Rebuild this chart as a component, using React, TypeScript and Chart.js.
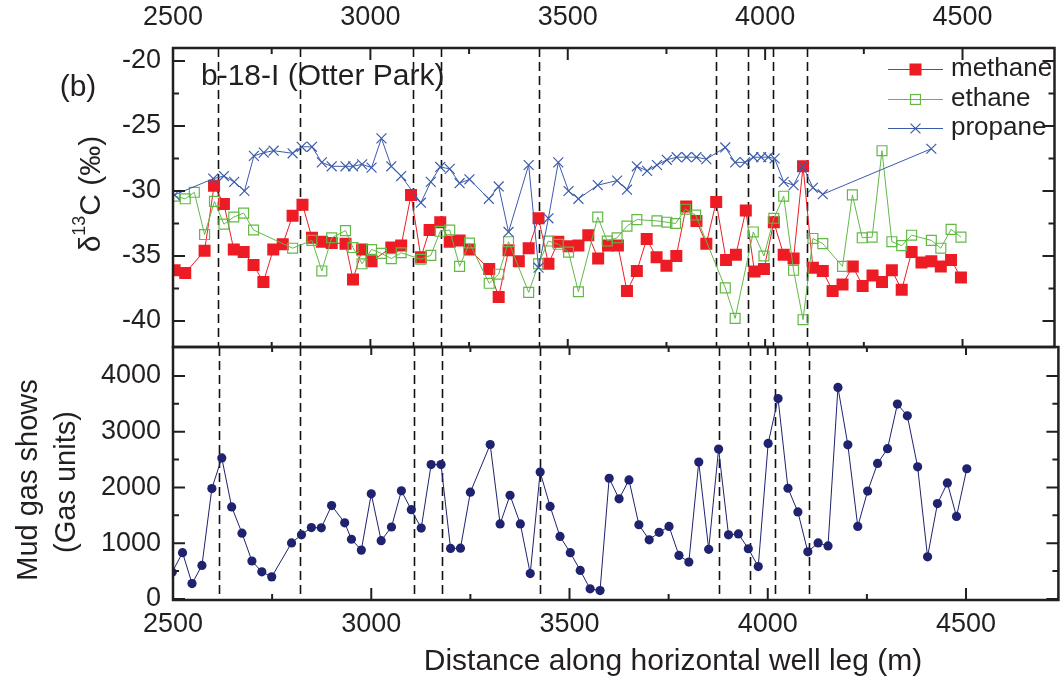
import React, { useEffect, useRef } from 'react';
import { Chart, registerables } from 'chart.js';

Chart.register(...registerables);

const W = 1063;
const H = 678;
const FONT = '"Liberation Sans", Arial, Helvetica, sans-serif';
const INK = '#231f20';

// ---------- axes ----------
const X_MIN = 2500;
const X_MAX = 4733;
const xMajorTicks = [2500, 3000, 3500, 4000, 4500];
const xMinorTicks = [2750, 3250, 3750, 4250];

const ISO_MIN = -42;
const ISO_MAX = -19;
const isoMajorTicks = [-40, -35, -30, -25, -20];
const isoMinorTicks = [-37.5, -32.5, -27.5, -22.5];

const GAS_MIN = -20;
const GAS_MAX = 4520;
const gasMajorTicks = [0, 1000, 2000, 3000, 4000];
const gasMinorTicks = [500, 1500, 2500, 3500];

// depths of the vertical dashed marker lines (m)
const showDepths = [2615, 2821, 3107, 3178, 3426, 3876, 3956, 4019, 4105];

// ---------- data ----------
const methaneX = [
  2504, 2531, 2580, 2604, 2629, 2654, 2679, 2704, 2729, 2754,
  2778, 2803, 2828, 2852, 2877, 2902, 2937, 2956, 2979, 3003,
  3053, 3078, 3103, 3128, 3150, 3177, 3201, 3226, 3251, 3301,
  3325, 3350, 3376, 3401, 3426, 3451, 3476, 3502, 3527, 3552,
  3577, 3602, 3627, 3650, 3675, 3700, 3725, 3750, 3775, 3800,
  3826, 3851, 3876, 3901, 3926, 3951, 3973, 3997, 4022, 4047,
  4072, 4096, 4121, 4146, 4171, 4196, 4222, 4247, 4272, 4296,
  4321, 4346, 4371, 4396, 4421, 4445, 4471, 4496,
];
const methaneY = [
  -36.1, -36.3, -34.6, -29.6, -31.0, -34.5, -34.7, -35.7, -37.0, -34.5,
  -34.1, -31.9, -31.05, -33.6, -33.9, -34.0, -34.05, -36.8, -34.5, -35.4,
  -34.35, -34.2, -30.3, -35.1, -33.0, -32.4, -33.9, -33.8, -34.5, -36.0,
  -38.15, -34.55, -35.4, -34.4, -32.1, -35.6, -33.9, -34.25, -34.2, -33.4,
  -35.2, -34.2, -34.2, -37.7, -36.15, -33.7, -35.1, -35.75, -35.0, -31.2,
  -32.3, -34.05, -30.85, -35.3, -34.9, -31.5, -36.2, -36.0, -32.4, -34.9,
  -35.2, -28.1, -35.9, -36.15, -37.7, -37.2, -35.8, -37.3, -36.5, -37.0,
  -36.1, -37.6, -34.7, -35.5, -35.4, -35.8, -35.3, -36.65,
];

const ethaneX = [
  2504, 2531, 2554, 2580, 2605, 2629, 2654, 2679, 2704, 2803,
  2852, 2877, 2902, 2937, 2956, 2979, 3003, 3028, 3053, 3078,
  3128, 3153, 3177, 3201, 3226, 3251, 3301, 3325, 3350, 3401,
  3426, 3451, 3476, 3502, 3527, 3576, 3600, 3625, 3650, 3675,
  3726, 3751, 3773, 3798, 3824, 3899, 3924, 3970, 3997, 4022,
  4047, 4072, 4096, 4121, 4146, 4196, 4221, 4246, 4271, 4296,
  4321, 4346, 4371, 4421, 4445, 4471, 4496,
];
const ethaneY = [
  -30.4, -30.6, -30.1, -33.35, -30.8, -32.55, -32.0, -31.7, -33.0, -34.4,
  -33.8, -36.15, -33.6, -33.05, -34.35, -35.6, -34.5, -34.8, -35.2, -34.75,
  -35.25, -34.95, -33.1, -33.0, -35.8, -34.0, -37.1, -36.4, -33.9, -37.8,
  -35.6, -33.85, -34.1, -34.7, -37.75, -32.0, -33.85, -33.6, -32.7, -32.2,
  -32.3, -32.4, -32.5, -31.4, -31.85, -37.45, -39.8, -33.15, -35.0, -32.1,
  -30.4, -36.1, -39.9, -33.65, -34.05, -35.8, -30.3, -33.6, -33.55, -26.9,
  -33.9, -34.2, -33.4, -33.8, -34.4, -32.95, -33.55,
];

const propaneX = [
  2504, 2602, 2629, 2655, 2681, 2705, 2730, 2755, 2803, 2826,
  2852, 2877, 2902, 2937, 2956, 2979, 3003, 3028, 3053, 3078,
  3128, 3153, 3177, 3201, 3226, 3251, 3300, 3325, 3350, 3401,
  3426, 3451, 3476, 3502, 3527, 3576, 3625, 3650, 3675, 3701,
  3726, 3751, 3776, 3801, 3826, 3851, 3899, 3924, 3949, 3970,
  3990, 4008, 4024, 4047, 4072, 4096, 4121, 4146, 4421,
];
const propaneY = [
  -30.3, -29.05, -28.85, -29.3, -30.0, -27.3, -27.05, -26.9, -27.1, -26.6,
  -26.6, -27.8, -28.1, -28.1, -28.1, -27.95, -28.2, -25.95, -28.1, -28.85,
  -30.9, -29.3, -28.15, -28.3, -29.4, -29.1, -30.6, -29.65, -33.15, -28.0,
  -35.9, -32.1, -27.8, -30.0, -30.6, -29.55, -29.2, -29.9, -28.1, -28.45,
  -28.0, -27.6, -27.4, -27.4, -27.4, -27.55, -26.65, -27.8, -27.8, -27.4,
  -27.4, -27.4, -27.5, -29.3, -29.55, -28.1, -29.75, -30.25, -26.75,
];

const mudX = [
  2498, 2524, 2548, 2573, 2598, 2623, 2648, 2674, 2699, 2724,
  2749, 2799, 2824, 2849, 2874, 2900, 2933, 2950, 2975, 3000,
  3025, 3051, 3076, 3101, 3126, 3151, 3176, 3200, 3225, 3250,
  3300, 3325, 3350, 3376, 3401, 3426, 3451, 3476, 3502, 3527,
  3552, 3577, 3600, 3625, 3650, 3675, 3701, 3726, 3751, 3776,
  3801, 3826, 3851, 3876, 3901, 3926, 3951, 3976, 4001, 4026,
  4051, 4076, 4101, 4127, 4152, 4177, 4202, 4227, 4252, 4277,
  4302, 4327, 4352, 4378, 4403, 4428, 4453, 4476, 4502,
];
const mudY = [
  480, 830, 275, 600, 1980, 2530, 1650, 1180, 680, 485,
  395, 1005, 1150, 1280, 1275, 1675, 1365, 1070, 875, 1885,
  1045, 1290, 1940, 1600, 1270, 2410, 2410, 905, 910, 1915,
  2770, 1345, 1860, 1345, 455, 2275, 1660, 1120, 830, 510,
  180, 150, 2165, 1795, 2135, 1330, 1060, 1195, 1300, 780,
  660, 2455, 890, 2690, 1150, 1165, 900, 580, 2790, 3595,
  1985, 1560, 845, 1005, 950, 3795, 2765, 1300, 1935, 2430,
  2695, 3495, 3285, 2370, 755, 1710, 2080, 1480, 2335,
];

const RED = '#ed1c24';
const GREEN = '#62b946';
const BLUE = '#3b5bab';
const NAVY = '#1f226e';

const pts = (xs: number[], ys: number[]) =>
  xs.slice(0, Math.min(xs.length, ys.length)).map((x, i) => ({ x, y: ys[i] }));

const plain = (v: any) => String(v);

// ---------- drawing helpers ----------
function drawDashed(chart: any) {
  const { ctx, chartArea: a } = chart;
  const xs = chart.scales.x;
  ctx.save();
  ctx.strokeStyle = '#111';
  ctx.lineWidth = 1.6;
  ctx.setLineDash([9, 5]);
  ctx.beginPath();
  showDepths.forEach((d) => {
    const p = Math.round(xs.getPixelForValue(d)) + 0.5;
    ctx.moveTo(p, a.top);
    ctx.lineTo(p, a.bottom);
  });
  ctx.stroke();
  ctx.restore();
}

function drawFrame(
  chart: any,
  yMajor: number[],
  yMinor: number[],
  topLen: [number, number],
  botLen: [number, number]
) {
  const { ctx, chartArea: a } = chart;
  const xs = chart.scales.x;
  const ys = chart.scales.y;
  ctx.save();
  ctx.strokeStyle = INK;
  ctx.lineWidth = 2;
  ctx.setLineDash([]);
  ctx.beginPath();
  const vt = (vals: number[], t: number, b: number) =>
    vals.forEach((v) => {
      const p = xs.getPixelForValue(v);
      ctx.moveTo(p, a.top);
      ctx.lineTo(p, a.top + t);
      ctx.moveTo(p, a.bottom);
      ctx.lineTo(p, a.bottom - b);
    });
  vt(xMajorTicks, topLen[0], botLen[0]);
  vt(xMinorTicks, topLen[1], botLen[1]);
  const ht = (vals: number[], len: number) =>
    vals.forEach((v) => {
      const p = ys.getPixelForValue(v);
      ctx.moveTo(a.left, p);
      ctx.lineTo(a.left + len, p);
      ctx.moveTo(a.right, p);
      ctx.lineTo(a.right - len, p);
    });
  ht(yMajor, 12);
  ht(yMinor, 6);
  ctx.stroke();
  ctx.lineWidth = 2.5;
  ctx.strokeRect(a.left, a.top, a.right - a.left, a.bottom - a.top);
  ctx.restore();
}

function legendMarker(ctx: CanvasRenderingContext2D, kind: string, x: number, y: number) {
  if (kind === 'methane') {
    const s = 8.5 * Math.SQRT1_2;
    ctx.fillStyle = RED;
    ctx.fillRect(x - s, y - s, 2 * s, 2 * s);
  } else if (kind === 'ethane') {
    const s = 7 * Math.SQRT1_2;
    ctx.strokeStyle = GREEN;
    ctx.lineWidth = 1.2;
    ctx.strokeRect(x - s, y - s, 2 * s, 2 * s);
  } else {
    const s = 7 * Math.SQRT1_2;
    ctx.strokeStyle = BLUE;
    ctx.lineWidth = 1.2;
    ctx.beginPath();
    ctx.moveTo(x - s, y - s);
    ctx.lineTo(x + s, y + s);
    ctx.moveTo(x + s, y - s);
    ctx.lineTo(x - s, y + s);
    ctx.stroke();
  }
}

const legendItems = [
  { label: 'methane', color: RED, y: 69 },
  { label: 'ethane', color: GREEN, y: 99 },
  { label: 'propane', color: BLUE, y: 128 },
];

const topDecor = {
  id: 'topDecor',
  beforeDatasetsDraw(chart: any) {
    drawDashed(chart);
  },
  afterDraw(chart: any) {
    const ctx: CanvasRenderingContext2D = chart.ctx;
    drawFrame(chart, isoMajorTicks, isoMinorTicks, [12, 6], [8, 5]);
    ctx.save();
    // legend
    legendItems.forEach((it) => {
      ctx.strokeStyle = it.color;
      ctx.lineWidth = 1;
      ctx.beginPath();
      ctx.moveTo(888, it.y + 0.5);
      ctx.lineTo(943, it.y + 0.5);
      ctx.stroke();
      legendMarker(ctx, it.label, 915.5, it.y + 0.5);
      ctx.fillStyle = INK;
      ctx.font = `26px ${FONT}`;
      ctx.textAlign = 'left';
      ctx.textBaseline = 'middle';
      ctx.fillText(it.label, 951, it.y);
    });
    // annotations
    ctx.fillStyle = INK;
    ctx.font = `30px ${FONT}`;
    ctx.textAlign = 'left';
    ctx.textBaseline = 'alphabetic';
    ctx.fillText('b-18-I (Otter Park)', 201, 85);
    ctx.textAlign = 'center';
    ctx.fillText('(b)', 78, 96);
    // y title with superscript
    ctx.translate(100, 194);
    ctx.rotate(-Math.PI / 2);
    ctx.textAlign = 'left';
    const big = `30px ${FONT}`;
    const small = `18px ${FONT}`;
    ctx.font = big;
    const w1 = ctx.measureText('δ').width;
    const w3 = ctx.measureText('C (‰)').width;
    ctx.font = small;
    const w2 = ctx.measureText('13').width;
    let x0 = -(w1 + w2 + w3) / 2;
    ctx.font = big;
    ctx.fillText('δ', x0, 0);
    x0 += w1;
    ctx.font = small;
    ctx.fillText('13', x0, -15);
    x0 += w2;
    ctx.font = big;
    ctx.fillText('C (‰)', x0, 0);
    ctx.restore();
  },
};

const bottomDecor = {
  id: 'bottomDecor',
  beforeDatasetsDraw(chart: any) {
    drawDashed(chart);
  },
  afterDraw(chart: any) {
    const ctx: CanvasRenderingContext2D = chart.ctx;
    drawFrame(chart, gasMajorTicks, gasMinorTicks, [8, 5], [12, 6]);
    ctx.save();
    ctx.fillStyle = INK;
    ctx.font = `30px ${FONT}`;
    ctx.textAlign = 'center';
    ctx.textBaseline = 'alphabetic';
    ctx.fillText('Distance along horizontal well leg (m)', 673, 670);
    ctx.font = `29px ${FONT}`;
    ctx.save();
    ctx.translate(37, 480);
    ctx.rotate(-Math.PI / 2);
    ctx.fillText('Mud gas shows', 0, 0);
    ctx.restore();
    ctx.save();
    ctx.translate(75, 482);
    ctx.rotate(-Math.PI / 2);
    ctx.fillText('(Gas units)', 0, 0);
    ctx.restore();
    ctx.restore();
  },
};

const tickFont = { family: FONT, size: 27 };

export default function App() {
  const topRef = useRef<HTMLCanvasElement>(null);
  const botRef = useRef<HTMLCanvasElement>(null);

  useEffect(() => {
    const common: any = {
      responsive: false,
      animation: false,
      devicePixelRatio: 1,
      events: [],
      plugins: { legend: { display: false }, tooltip: { enabled: false } },
    };

    const top = new Chart(topRef.current as HTMLCanvasElement, {
      type: 'line',
      data: {
        datasets: [
          {
            label: 'propane',
            data: pts(propaneX, propaneY),
            borderColor: BLUE,
            borderWidth: 1,
            pointStyle: 'crossRot',
            pointRadius: 7,
            pointBorderWidth: 1.2,
            pointBorderColor: BLUE,
            order: 0,
          },
          {
            label: 'ethane',
            data: pts(ethaneX, ethaneY),
            borderColor: GREEN,
            borderWidth: 1,
            pointStyle: 'rect',
            pointRadius: 7,
            pointBorderWidth: 1.2,
            pointBorderColor: GREEN,
            pointBackgroundColor: 'rgba(255,255,255,0)',
            order: 1,
          },
          {
            label: 'methane',
            data: pts(methaneX, methaneY),
            borderColor: RED,
            borderWidth: 1,
            pointStyle: 'rect',
            pointRadius: 8.5,
            pointBorderWidth: 0,
            pointBackgroundColor: RED,
            order: 2,
          },
        ] as any,
      },
      options: {
        ...common,
        layout: { padding: { top: 0, right: 1, bottom: H - 347, left: 0 } },
        scales: {
          x: { type: 'linear', min: X_MIN, max: X_MAX, display: false },
          xTop: {
            type: 'linear',
            position: 'top',
            min: X_MIN,
            max: X_MAX,
            grid: { display: false, drawTicks: false },
            border: { display: false },
            ticks: { font: tickFont, color: INK, padding: 14, maxRotation: 0, autoSkip: false, callback: plain },
            afterBuildTicks: (s: any) => {
              s.ticks = xMajorTicks.map((v) => ({ value: v }));
            },
            afterFit: (s: any) => {
              s.height = 48;
            },
          },
          y: {
            type: 'linear',
            position: 'left',
            min: ISO_MIN,
            max: ISO_MAX,
            grid: { display: false, drawTicks: false },
            border: { display: false },
            ticks: { font: tickFont, color: INK, padding: 12, autoSkip: false, callback: plain },
            afterBuildTicks: (s: any) => {
              s.ticks = isoMajorTicks.map((v) => ({ value: v }));
            },
            afterFit: (s: any) => {
              s.width = 173;
            },
          },
        },
      } as any,
      plugins: [topDecor],
    });

    const bottom = new Chart(botRef.current as HTMLCanvasElement, {
      type: 'line',
      data: {
        datasets: [
          {
            label: 'mud gas',
            data: pts(mudX, mudY),
            borderColor: NAVY,
            borderWidth: 1,
            pointStyle: 'circle',
            pointRadius: 4.6,
            pointBorderWidth: 0,
            pointBackgroundColor: NAVY,
          },
        ] as any,
      },
      options: {
        ...common,
        layout: { padding: { top: 347, right: 1, bottom: 0, left: 0 } },
        scales: {
          x: {
            type: 'linear',
            position: 'bottom',
            min: X_MIN,
            max: X_MAX,
            grid: { display: false, drawTicks: false },
            border: { display: false },
            ticks: { font: tickFont, color: INK, padding: 8, maxRotation: 0, autoSkip: false, callback: plain },
            afterBuildTicks: (s: any) => {
              s.ticks = xMajorTicks.map((v) => ({ value: v }));
            },
            afterFit: (s: any) => {
              s.height = H - 600;
            },
          },
          y: {
            type: 'linear',
            position: 'left',
            min: GAS_MIN,
            max: GAS_MAX,
            grid: { display: false, drawTicks: false },
            border: { display: false },
            ticks: { font: tickFont, color: INK, padding: 12, autoSkip: false, callback: plain },
            afterBuildTicks: (s: any) => {
              s.ticks = gasMajorTicks.map((v) => ({ value: v }));
            },
            afterFit: (s: any) => {
              s.width = 173;
            },
          },
        },
      } as any,
      plugins: [bottomDecor],
    });

    return () => {
      top.destroy();
      bottom.destroy();
    };
  }, []);

  return (
    <div style={{ position: 'absolute', left: 0, top: 0, width: W, height: H, background: '#fff' }}>
      <canvas ref={topRef} width={W} height={H} style={{ position: 'absolute', left: 0, top: 0 }} />
      <canvas ref={botRef} width={W} height={H} style={{ position: 'absolute', left: 0, top: 0 }} />
    </div>
  );
}
